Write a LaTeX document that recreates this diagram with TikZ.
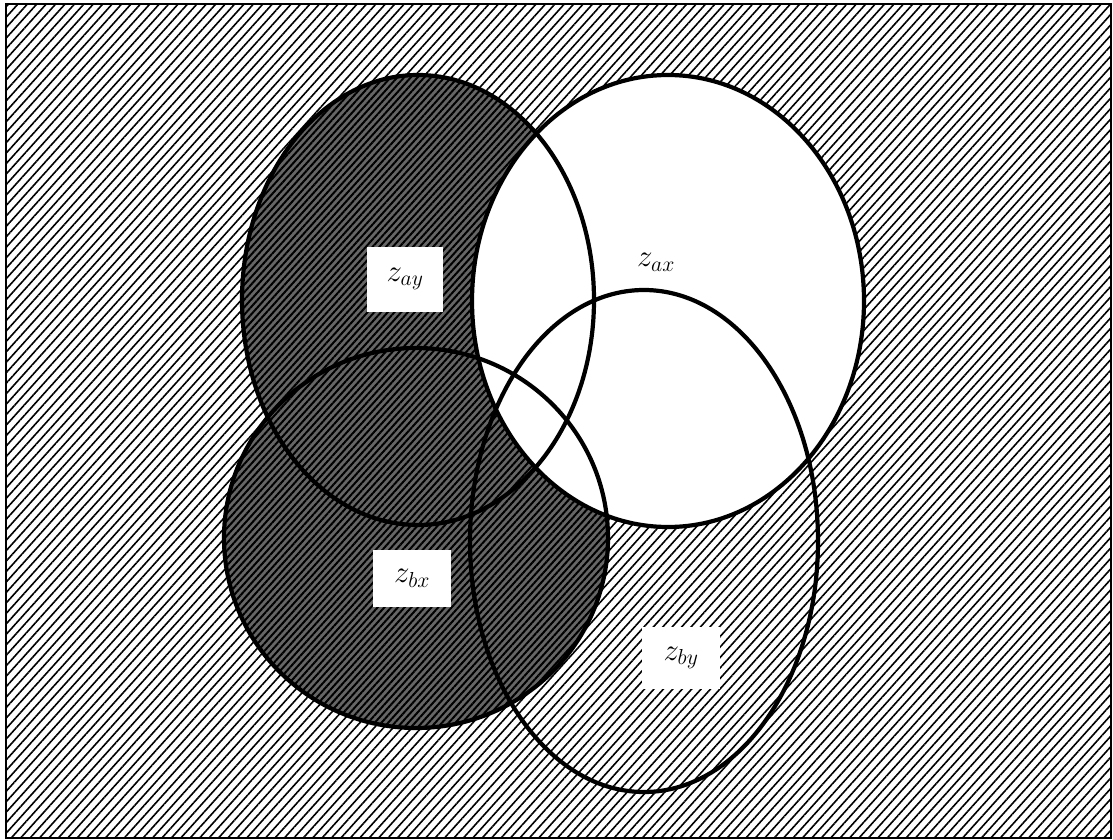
\documentclass[tikz,border=0pt]{standalone}
\usepackage{fix-cm}
\usetikzlibrary{patterns.meta}
\newcommand{\zlab}[1]{$z_{#1}$}
\begin{document}
\begin{tikzpicture}[x=1pt,y=-1pt,
  hatch/.style={pattern={Lines[angle=48,distance=7pt,line width=1.6pt]},pattern color=black},
  dark/.style={preaction={fill=black!60},pattern={Lines[angle=48,distance=5pt,line width=2pt]},pattern color=black},
  rim/.style={draw=black,line width=4.2pt},
  lbl/.style={fill=white,inner sep=0pt,font=\fontsize{31}{31}\selectfont}]
\useasboundingbox (0,0) rectangle (1113,840);
\fill[white] (0,0) rectangle (1113,840);
% background hatching
\path[hatch] (6,4) rectangle (1111,838);
% fills, in layer order
\path[hatch, preaction={fill=white}] (644,541) ellipse [x radius=174pt, y radius=251pt];
\path[dark] (418,300) ellipse [x radius=176pt, y radius=225pt];
\path[dark] (416,538) ellipse [x radius=192pt, y radius=190pt];
\fill[white] (668,301) ellipse [x radius=196pt, y radius=226pt];
% outlines
\draw[rim] (418,300) ellipse [x radius=176pt, y radius=225pt];
\draw[rim] (416,538) ellipse [x radius=192pt, y radius=190pt];
\draw[rim] (668,301) ellipse [x radius=196pt, y radius=226pt];
\draw[rim] (644,541) ellipse [x radius=174pt, y radius=251pt];
% labels
\node[lbl, minimum width=76pt, minimum height=65pt] (zay) at (405,279) {\zlab{ay}};
\node[lbl, minimum width=0pt, minimum height=0pt] (zax) at (656,262) {\zlab{ax}};
\node[lbl, minimum width=78pt, minimum height=57pt] (zbx) at (412,578) {\zlab{bx}};
\node[lbl, minimum width=78pt, minimum height=62pt] (zby) at (681,658) {\zlab{by}};
% frame
\draw[line width=2.2pt] (6,4) rectangle (1111,838);
\end{tikzpicture}
\end{document}
